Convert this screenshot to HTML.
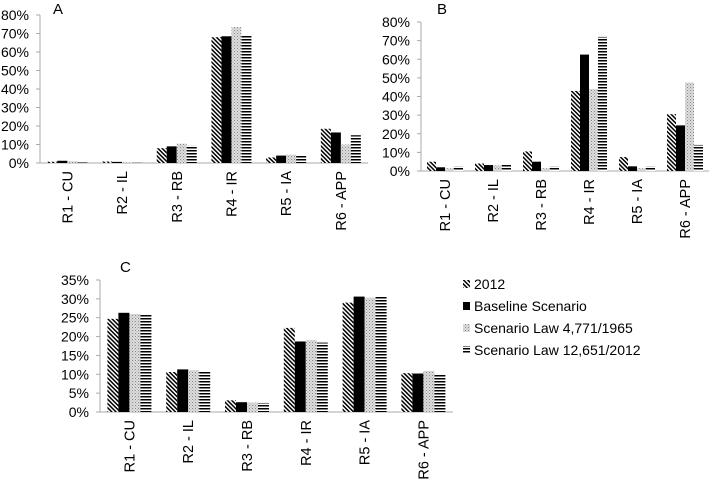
<!DOCTYPE html>
<html><head><meta charset="utf-8"><style>
html,body{margin:0;padding:0;background:#fff;}
svg{display:block;font-family:"Liberation Sans",sans-serif;}
</style></head><body>
<svg id="s" width="720" height="480">
<defs>
<pattern id="p-diag" patternUnits="userSpaceOnUse" width="3" height="3" patternTransform="rotate(-45)"><rect width="3" height="3" fill="#fff"/><rect width="1.5" height="3" fill="#000"/></pattern>
<pattern id="p-dot" patternUnits="userSpaceOnUse" width="3" height="3"><rect width="3" height="3" fill="#ddd"/><rect width="1" height="1" fill="#888"/><rect x="1.5" y="1.5" width="1" height="1" fill="#aaa"/></pattern>
<pattern id="p-hor" patternUnits="userSpaceOnUse" width="4" height="3"><rect width="4" height="3" fill="#fff"/><rect width="4" height="1.5" fill="#000"/></pattern>
</defs>
<g id="legend" font-size="14" fill="#000">
<g><rect x="463" y="280" width="7" height="8" fill="url(#p-diag)"/><text x="474" y="289">2012</text></g>
<g><rect x="463" y="302" width="7" height="8" fill="#000"/><text x="474" y="311">Baseline Scenario</text></g>
<g><rect x="463" y="324" width="7" height="8" fill="url(#p-dot)"/><text x="474" y="333">Scenario Law 4,771/1965</text></g>
<g><rect x="463" y="346" width="7" height="8" fill="url(#p-hor)"/><text x="474" y="355">Scenario Law 12,651/2012</text></g>
</g>
</svg>
<script>
const categories=["R1 - CU","R2 - IL","R3 - RB","R4 - IR","R5 - IA","R6 - APP"];
const seriesNames=["2012","Baseline Scenario","Scenario Law 4,771/1965","Scenario Law 12,651/2012"];
const aS2012=[0.7,0.8,8,68,3,18.5];
const aBase=[1.2,0.6,9,68.5,4,16.5];
const aLaw4771=[1,0.4,10.5,73.5,4.5,10];
const aLaw12651=[0.3,0.1,9.5,69,4,15];
const bS2012=[5,4,10.5,43,7.5,30.5];
const bBase=[2,3.2,5,62.5,2.5,24.5];
const bLaw4771=[1.5,3,1.5,44,1.5,47.5];
const bLaw12651=[2.5,4,2.5,72,2.5,14];
const cS2012=[24.7,10.6,3.1,22.3,29,10.3];
const cBase=[26.3,11.3,2.6,18.7,30.6,10.2];
const cLaw4771=[26,11.1,2.5,19.1,30.3,10.9];
const cLaw12651=[26,11,2.4,18.4,30.6,10];
const ticksAB=[0,10,20,30,40,50,60,70,80];
const ticksC=[0,5,10,15,20,25,30,35];
const fills=["url(#p-diag)","#000","url(#p-dot)","url(#p-hor)"];
const NS="http://www.w3.org/2000/svg";
const svg=document.getElementById('s');
function mk(t,a,p){const e=document.createElementNS(NS,t);for(const k in a)e.setAttribute(k,a[k]);(p||svg).appendChild(e);return e;}
function chart(c){
  const g=mk('g',{});
  
  
  const y=v=>c.y0-(v/c.max)*(c.y0-c.yTop);
  const t=mk('text',{x:c.lx,y:c.ly,'font-size':15},g);t.textContent=c.letter;
  
  
  const ax=mk('line',{x1:c.x0,y1:c.yTop,x2:c.x0,y2:c.y0,stroke:'#aaa'},g);
  
  
  const bx=mk('line',{x1:c.x0,y1:c.y0,x2:c.x0+c.step*6,y2:c.y0,stroke:'#aaa'},g);
  
  
  c.ticks.forEach(v=>{
    mk('line',{x1:c.x0-4,y1:y(v),x2:c.x0,y2:y(v),stroke:'#aaa'},g);
    const tt=mk('text',{x:c.x0-11,y:y(v)+5,'font-size':14,'text-anchor':'end'},g);
    tt.textContent=v+'%';
    
    
  });
  categories.forEach((cat,i)=>{
    const cx=c.x0+c.step*(i+0.5);
    c.series.forEach((arr,s)=>{
      const v=arr[i];
      const r=mk('rect',{x:cx-2*c.bw+s*c.bw,y:y(v),width:c.bw,height:c.y0-y(v),fill:fills[s]},g);
      
      
    });
    const lt=mk('text',{x:0,y:0,'font-size':14.5,'text-anchor':'end',transform:`translate(${cx+5},${c.y0+8}) rotate(-90)`},g);
    lt.textContent=cat;
    
    
  });
}
chart({name:'chart-a',letter:'A',lx:53,ly:14,x0:40,y0:163,yTop:15,max:80,step:54.7,bw:10,ticks:ticksAB,series:[aS2012,aBase,aLaw4771,aLaw12651]});
chart({name:'chart-b',letter:'B',lx:437,ly:14,x0:421,y0:171,yTop:22,max:80,step:48,bw:9,ticks:ticksAB,series:[bS2012,bBase,bLaw4771,bLaw12651]});
chart({name:'chart-c',letter:'C',lx:120,ly:272,x0:100,y0:412,yTop:280,max:35,step:58.8,bw:11,ticks:ticksC,series:[cS2012,cBase,cLaw4771,cLaw12651]});
</script>
</body></html>
